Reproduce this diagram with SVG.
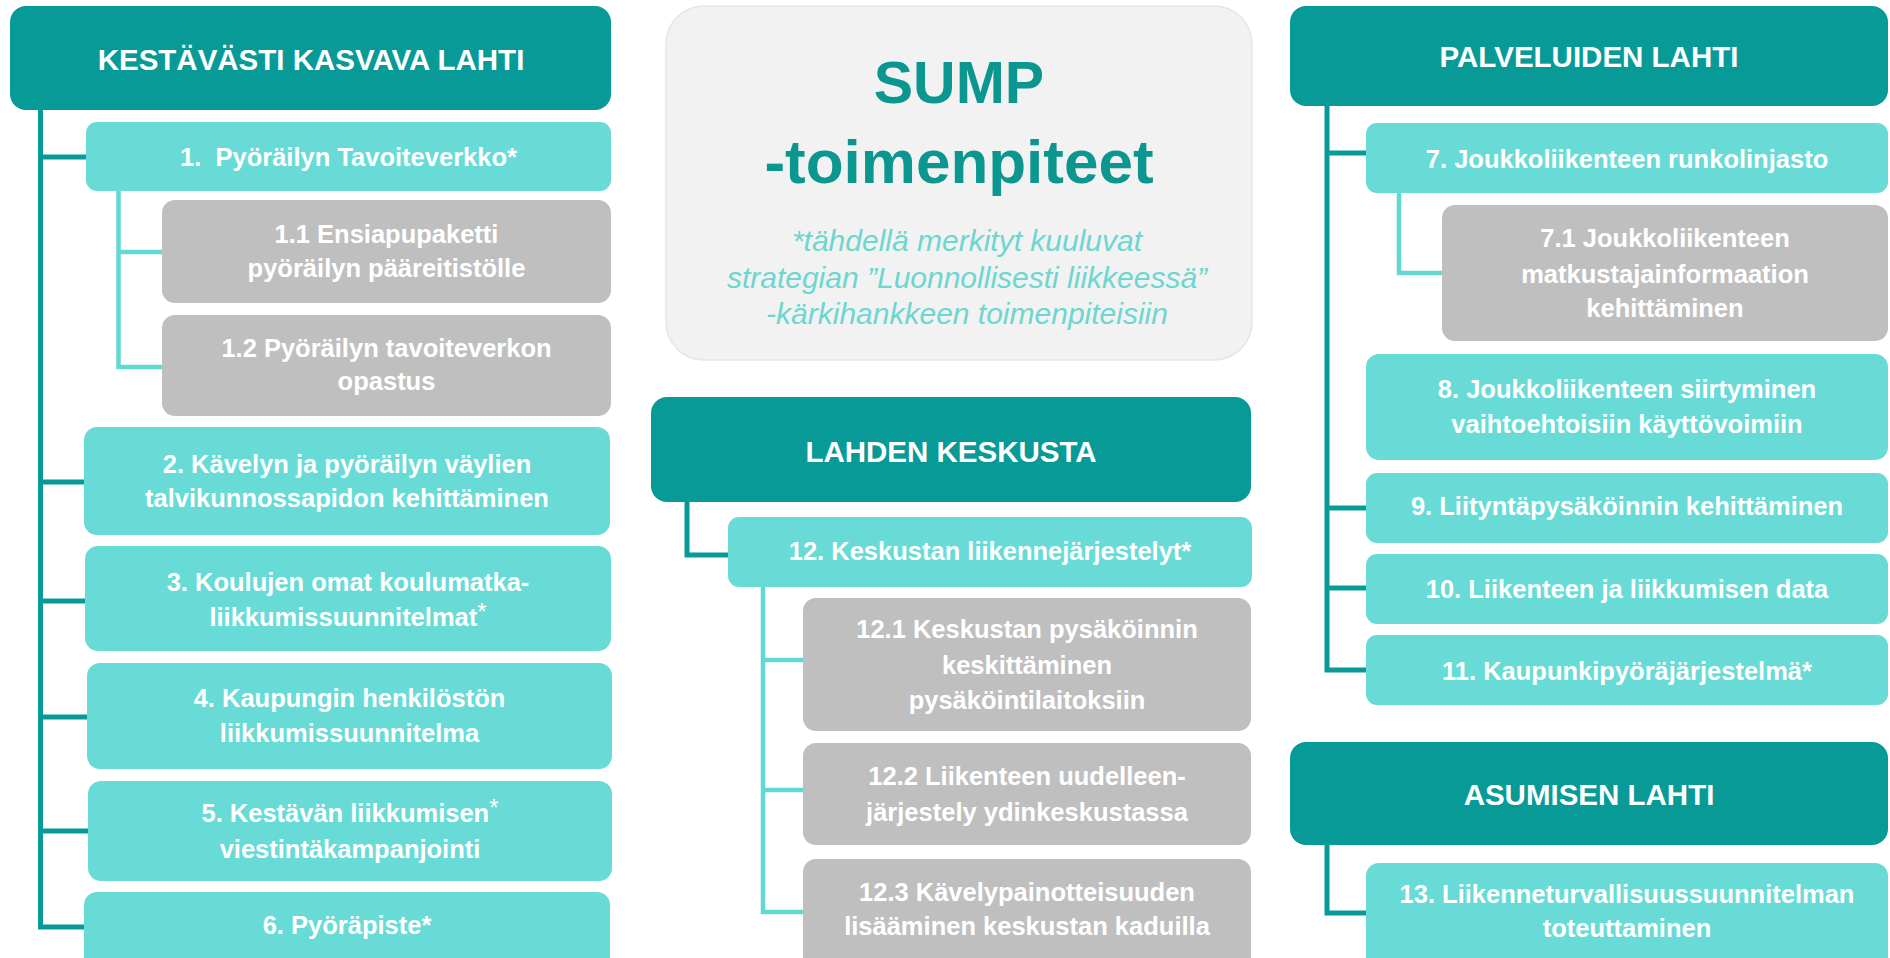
<svg xmlns="http://www.w3.org/2000/svg" width="1890" height="958" viewBox="0 0 1890 958">
<style>
.hdr{fill:#079a96}
.lt{fill:#69dbd6}
.gr{fill:#bfbfbf}
.ht{font-family:"Liberation Sans",Arial,sans-serif;font-weight:bold;font-size:29.5px;fill:#ffffff;text-anchor:middle}
.bt{font-family:"Liberation Sans",Arial,sans-serif;font-weight:bold;font-size:25.5px;fill:#ffffff;text-anchor:middle}
.sup{font-weight:normal;font-size:24px}
.cd{stroke:#079a96;stroke-width:5;fill:none}
.cl{stroke:#62d8d2;stroke-width:4.5;fill:none}
.title{font-family:"Liberation Sans",Arial,sans-serif;font-weight:bold;fill:#0c9690;text-anchor:middle}
.note{font-family:"Liberation Sans",Arial,sans-serif;font-style:italic;font-size:30px;fill:#6dd6cf;text-anchor:middle}
</style>
<rect width="1890" height="958" fill="#ffffff"/>

<g id="connectors">
  <path class="cd" d="M40.5,110 V927 H84 M40.5,157 H86 M40.5,482 H84 M40.5,601 H85 M40.5,717 H87 M40.5,831 H88"/>
  <path class="cl" d="M118.5,191 V367 H162 M118.5,252 H162"/>
  <path class="cd" d="M687,502 V555 H728"/>
  <path class="cl" d="M763,587 V912 H803 M763,660 H803 M763,790 H803"/>
  <path class="cd" d="M1327,106 V670 H1366 M1327,153 H1366 M1327,508 H1366 M1327,588 H1366"/>
  <path class="cl" d="M1399,193 V273 H1442"/>
  <path class="cd" d="M1327,845 V913 H1366"/>
</g>

<g id="h-kestavasti">
  <rect class="hdr" x="10" y="6" width="601" height="104" rx="16"/>
  <text class="ht" x="311" y="70">KESTÄVÄSTI KASVAVA LAHTI</text>
</g>
<g id="n1">
  <rect class="lt" x="86" y="122" width="525" height="69" rx="11"/>
  <text class="bt" x="348.5" y="166" xml:space="preserve">1.  Pyöräilyn Tavoiteverkko*</text>
</g>
<g id="n1-1">
  <rect class="gr" x="162" y="200" width="449" height="103" rx="13"/>
  <text class="bt" x="386.5" y="243">1.1 Ensiapupaketti</text>
  <text class="bt" x="386.5" y="277">pyöräilyn pääreitistölle</text>
</g>
<g id="n1-2">
  <rect class="gr" x="162" y="315" width="449" height="101" rx="13"/>
  <text class="bt" x="386.5" y="357">1.2 Pyöräilyn tavoiteverkon</text>
  <text class="bt" x="386.5" y="390">opastus</text>
</g>
<g id="n2">
  <rect class="lt" x="84" y="427" width="526" height="108" rx="13"/>
  <text class="bt" x="347" y="473">2. Kävelyn ja pyöräilyn väylien</text>
  <text class="bt" x="347" y="507">talvikunnossapidon kehittäminen</text>
</g>
<g id="n3">
  <rect class="lt" x="85" y="546" width="526" height="105" rx="13"/>
  <text class="bt" x="348" y="591">3. Koulujen omat koulumatka-</text>
  <text class="bt" x="348" y="626">liikkumissuunnitelmat<tspan class="sup" dy="-6">*</tspan></text>
</g>
<g id="n4">
  <rect class="lt" x="87" y="663" width="525" height="106" rx="13"/>
  <text class="bt" x="349.5" y="707">4. Kaupungin henkilöstön</text>
  <text class="bt" x="349.5" y="742">liikkumissuunnitelma</text>
</g>
<g id="n5">
  <rect class="lt" x="88" y="781" width="524" height="100" rx="13"/>
  <text class="bt" x="350" y="822">5. Kestävän liikkumisen<tspan class="sup" dy="-6">*</tspan></text>
  <text class="bt" x="350" y="858">viestintäkampanjointi</text>
</g>
<g id="n6">
  <rect class="lt" x="84" y="892" width="526" height="80" rx="13"/>
  <text class="bt" x="347" y="934">6. Pyöräpiste*</text>
</g>

<g id="sump">
  <rect x="666" y="6" width="586" height="354" rx="38" fill="#f2f2f2" stroke="#e6e6e6" stroke-width="1.5"/>
  <text class="title" x="959" y="103" font-size="59">SUMP</text>
  <text class="title" x="959" y="183" font-size="62">-toimenpiteet</text>
  <text class="note" x="967" y="251">*tähdellä merkityt kuuluvat</text>
  <text class="note" x="967" y="288">strategian ”Luonnollisesti liikkeessä”</text>
  <text class="note" x="967" y="324">-kärkihankkeen toimenpiteisiin</text>
</g>

<g id="h-keskusta">
  <rect class="hdr" x="651" y="397" width="600" height="105" rx="16"/>
  <text class="ht" x="951" y="462">LAHDEN KESKUSTA</text>
</g>
<g id="n12">
  <rect class="lt" x="728" y="517" width="524" height="70" rx="11"/>
  <text class="bt" x="990" y="560">12. Keskustan liikennejärjestelyt*</text>
</g>
<g id="n12-1">
  <rect class="gr" x="803" y="598" width="448" height="133" rx="13"/>
  <text class="bt" x="1027" y="638">12.1 Keskustan pysäköinnin</text>
  <text class="bt" x="1027" y="674">keskittäminen</text>
  <text class="bt" x="1027" y="709">pysäköintilaitoksiin</text>
</g>
<g id="n12-2">
  <rect class="gr" x="803" y="743" width="448" height="102" rx="13"/>
  <text class="bt" x="1027" y="785">12.2 Liikenteen uudelleen-</text>
  <text class="bt" x="1027" y="821">järjestely ydinkeskustassa</text>
</g>
<g id="n12-3">
  <rect class="gr" x="803" y="859" width="448" height="110" rx="13"/>
  <text class="bt" x="1027" y="901">12.3 Kävelypainotteisuuden</text>
  <text class="bt" x="1027" y="935">lisääminen keskustan kaduilla</text>
</g>

<g id="h-palvelut">
  <rect class="hdr" x="1290" y="6" width="598" height="100" rx="16"/>
  <text class="ht" x="1589" y="67">PALVELUIDEN LAHTI</text>
</g>
<g id="n7">
  <rect class="lt" x="1366" y="123" width="522" height="70" rx="11"/>
  <text class="bt" x="1627" y="168">7. Joukkoliikenteen runkolinjasto</text>
</g>
<g id="n7-1">
  <rect class="gr" x="1442" y="205" width="446" height="136" rx="13"/>
  <text class="bt" x="1665" y="247">7.1 Joukkoliikenteen</text>
  <text class="bt" x="1665" y="283">matkustajainformaation</text>
  <text class="bt" x="1665" y="317">kehittäminen</text>
</g>
<g id="n8">
  <rect class="lt" x="1366" y="354" width="522" height="106" rx="13"/>
  <text class="bt" x="1627" y="398">8. Joukkoliikenteen siirtyminen</text>
  <text class="bt" x="1627" y="433">vaihtoehtoisiin käyttövoimiin</text>
</g>
<g id="n9">
  <rect class="lt" x="1366" y="473" width="522" height="70" rx="11"/>
  <text class="bt" x="1627" y="515">9. Liityntäpysäköinnin kehittäminen</text>
</g>
<g id="n10">
  <rect class="lt" x="1366" y="554" width="522" height="70" rx="11"/>
  <text class="bt" x="1627" y="598">10. Liikenteen ja liikkumisen data</text>
</g>
<g id="n11">
  <rect class="lt" x="1366" y="635" width="522" height="70" rx="11"/>
  <text class="bt" x="1627" y="680">11. Kaupunkipyöräjärjestelmä*</text>
</g>
<g id="h-asuminen">
  <rect class="hdr" x="1290" y="742" width="598" height="103" rx="16"/>
  <text class="ht" x="1589" y="805">ASUMISEN LAHTI</text>
</g>
<g id="n13">
  <rect class="lt" x="1366" y="863" width="522" height="110" rx="13"/>
  <text class="bt" x="1627" y="903">13. Liikenneturvallisuussuunnitelman</text>
  <text class="bt" x="1627" y="937">toteuttaminen</text>
</g>
</svg>
